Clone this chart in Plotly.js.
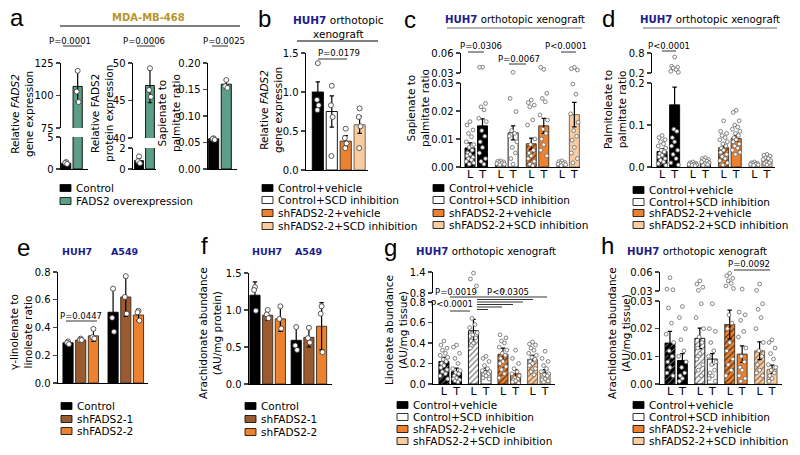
<!DOCTYPE html>
<html><head><meta charset="utf-8">
<script src="https://cdn.plot.ly/plotly-3.0.1.min.js"></script>
<style>html,body{margin:0;padding:0;background:#fff}#chart{width:800px;height:455px}</style>
</head><body><div id="chart"></div>
<script>
// ================= DATA =================
// panel a : MDA-MB-468
const aLegend = ['Control', 'FADS2 overexpression'];
const a1Mean = [0.9, 107];
const a1Err  = [0.1, 12];
const a1Pts  = [[1.1, 0.95, 0.8], [119, 103, 95]];
const a1LowTicks = [0, 5];
const a1UpTicks  = [75, 100, 125];
const a2Mean = [0.8, 47];
const a2Err  = [0.25, 2.3];
const a2Pts  = [[1.2, 0.75, 0.55], [49.3, 46.4, 45.5]];
const a2LowTicks = [0, 2];
const a2UpTicks  = [40, 45, 50];
const a3Mean = [0.057, 0.160];
const a3Err  = [0.001, 0.007];
const a3Pts  = [[0.058, 0.057, 0.055], [0.168, 0.156, 0.153]];
const a3Ticks = [0, 0.05, 0.10, 0.15, 0.20];

// legend for b, c, d, g, h
const xenoLegend = ['Control+vehicle', 'Control+SCD inhibition', 'shFADS2-2+vehicle', 'shFADS2-2+SCD inhibition'];

// panel b
const bMean = [1.0, 0.75, 0.37, 0.58];
const bErr  = [0.13, 0.20, 0.07, 0.11];
const bPts  = [[1.37, 0.90, 0.83, 0.77], [1.08, 0.83, 0.68, 0.18], [0.53, 0.41, 0.34, 0.28], [0.79, 0.68, 0.56, 0.28]];
const bTicks = [0, 0.5, 1.0, 1.5];

// L / T categories (liver / tumour)
const ltLabels = ['L', 'T', 'L', 'T', 'L', 'T', 'L', 'T'];

// panel c
const cMean = [0.0068, 0.0147, 0.0015, 0.0122, 0.0083, 0.0147, 0.0012, 0.0187];
const cErr  = [0.0018, 0.0025, 0.0003, 0.0025, 0.0020, 0.0027, 0.0003, 0.0044];
const cPts  = [
  [0.0162, 0.015, 0.0132, 0.012, 0.0108, 0.009, 0.008, 0.007, 0.006, 0.005, 0.0045, 0.004, 0.0035, 0.003, 0.0025, 0.002, 0.0015, 0.001],
  [0.0386, 0.0386, 0.0227, 0.0215, 0.0204, 0.0174, 0.0162, 0.013, 0.011, 0.009, 0.007, 0.005, 0.003, 0.002, 0.001],
  [0.0022, 0.002, 0.0018, 0.0016, 0.0014, 0.0012, 0.001, 0.0008],
  [0.031, 0.0245, 0.0198, 0.013, 0.012, 0.011, 0.009, 0.007, 0.005, 0.003, 0.001],
  [0.0239, 0.023, 0.0221, 0.0215, 0.0168, 0.015, 0.010, 0.008, 0.006, 0.005, 0.004, 0.003, 0.002, 0.001, 0.0005],
  [0.0355, 0.0385, 0.0263, 0.0245, 0.0233, 0.0186, 0.0168, 0.0135, 0.012, 0.010, 0.008, 0.006, 0.004],
  [0.0022, 0.0019, 0.0016, 0.0014, 0.0012, 0.001, 0.0008, 0.0005],
  [0.0385, 0.0365, 0.0345, 0.0296, 0.026, 0.019, 0.016, 0.013, 0.011, 0.0096, 0.007, 0.005, 0.003, 0.0015]
];
const cLowTicks = [0, 0.01, 0.02, 0.03];
const cUpTicks  = [0.03, 0.06];

// panel d
const dMean = [0.037, 0.148, 0.008, 0.013, 0.046, 0.068, 0.008, 0.016];
const dErr  = [0.007, 0.042, 0.001, 0.002, 0.007, 0.007, 0.001, 0.003];
const dPts  = [
  [0.075, 0.07, 0.065, 0.06, 0.055, 0.05, 0.045, 0.04, 0.036, 0.032, 0.028, 0.024, 0.02, 0.016, 0.012, 0.008, 0.004],
  [0.68, 0.40, 0.37, 0.35, 0.30, 0.25, 0.22, 0.09, 0.085, 0.07, 0.06, 0.05, 0.04, 0.03, 0.02, 0.01, 0.005],
  [0.012, 0.010, 0.009, 0.008, 0.007, 0.006, 0.005, 0.004, 0.003],
  [0.022, 0.020, 0.018, 0.016, 0.014, 0.012, 0.010, 0.008, 0.006, 0.004],
  [0.11, 0.085, 0.08, 0.075, 0.07, 0.065, 0.06, 0.055, 0.05, 0.045, 0.04, 0.035, 0.03, 0.025, 0.02, 0.015, 0.01, 0.005],
  [0.135, 0.13, 0.11, 0.10, 0.095, 0.09, 0.085, 0.08, 0.075, 0.07, 0.065, 0.06, 0.055, 0.05, 0.045, 0.04, 0.035, 0.03],
  [0.012, 0.010, 0.009, 0.008, 0.007, 0.006, 0.005, 0.004],
  [0.030, 0.028, 0.026, 0.022, 0.020, 0.018, 0.015, 0.012, 0.010, 0.008, 0.005]
];
const dLowTicks = [0, 0.1, 0.2];
const dUpTicks  = [0.2, 0.8];

// panels e, f
const shLegend = ['Control', 'shFADS2-1', 'shFADS2-2'];
const cellLines = ['HUH7', 'A549'];
const eMean = [0.29, 0.31, 0.34, 0.51, 0.62, 0.49];
const eErr  = [0.01, 0.01, 0.04, 0.16, 0.14, 0.04];
const ePts  = [[0.30, 0.29, 0.28], [0.32, 0.31, 0.31], [0.39, 0.33, 0.32], [0.68, 0.47, 0.37], [0.77, 0.62, 0.50], [0.52, 0.51, 0.45]];
const eTicks = [0, 0.2, 0.4, 0.6, 0.8];
const fMean = [1.20, 0.93, 0.88, 0.59, 0.63, 0.78];
const fErr  = [0.18, 0.07, 0.17, 0.18, 0.13, 0.32];
const fPts  = [[1.31, 1.27, 0.99], [1.00, 0.94, 0.89], [1.05, 0.88, 0.75], [0.77, 0.52, 0.46], [0.76, 0.62, 0.56], [1.05, 0.95, 0.43]];
const fTicks = [0, 0.5, 1.0, 1.5];

// panel g
const gMean = [0.22, 0.12, 0.52, 0.13, 0.29, 0.10, 0.24, 0.11];
const gErr  = [0.04, 0.035, 0.11, 0.025, 0.06, 0.04, 0.04, 0.03];
const gPts  = [
  [0.42, 0.38, 0.35, 0.33, 0.30, 0.28, 0.26, 0.24, 0.22, 0.20, 0.18, 0.16, 0.14, 0.12, 0.10, 0.08, 0.05],
  [0.38, 0.36, 0.30, 0.25, 0.20, 0.15, 0.13, 0.11, 0.10, 0.08, 0.06, 0.05, 0.04, 0.03, 0.02],
  [1.37, 1.20, 1.00, 0.64, 0.58, 0.55, 0.50, 0.48, 0.45, 0.42, 0.40, 0.35],
  [0.27, 0.25, 0.22, 0.18, 0.15, 0.13, 0.12, 0.11, 0.10, 0.09, 0.08, 0.06, 0.05],
  [0.87, 0.48, 0.45, 0.42, 0.40, 0.36, 0.33, 0.30, 0.28, 0.25, 0.22, 0.20, 0.17, 0.14, 0.10, 0.06],
  [0.33, 0.25, 0.20, 0.15, 0.12, 0.10, 0.08, 0.06, 0.05, 0.04, 0.03, 0.02, 0.01],
  [0.41, 0.39, 0.38, 0.35, 0.33, 0.30, 0.28, 0.26, 0.24, 0.22, 0.20, 0.18, 0.15, 0.12, 0.09],
  [0.32, 0.25, 0.22, 0.18, 0.15, 0.12, 0.10, 0.09, 0.08, 0.06, 0.05, 0.04, 0.03, 0.02]
];
const gLowTicks = [0, 0.2, 0.4, 0.6, 0.8];
const gUpTicks  = [0.8, 1.4];

// panel h
const hMean = [0.0148, 0.0085, 0.0165, 0.0090, 0.0215, 0.0108, 0.0120, 0.0053];
const hErr  = [0.0042, 0.0025, 0.0037, 0.0020, 0.0052, 0.0030, 0.0032, 0.0015];
const hPts  = [
  [0.051, 0.033, 0.032, 0.0275, 0.022, 0.018, 0.015, 0.012, 0.010, 0.008, 0.006, 0.004, 0.003],
  [0.028, 0.024, 0.020, 0.016, 0.012, 0.010, 0.008, 0.006, 0.004, 0.003, 0.002, 0.001],
  [0.046, 0.041, 0.036, 0.031, 0.029, 0.024, 0.020, 0.017, 0.015, 0.013, 0.011, 0.009, 0.007, 0.005, 0.003],
  [0.029, 0.020, 0.019, 0.015, 0.012, 0.010, 0.008, 0.007, 0.005, 0.004, 0.003, 0.002, 0.001],
  [0.058, 0.054, 0.050, 0.046, 0.042, 0.038, 0.034, 0.025, 0.022, 0.020, 0.015, 0.012, 0.009, 0.007, 0.005, 0.003],
  [0.033, 0.026, 0.025, 0.023, 0.019, 0.017, 0.013, 0.010, 0.008, 0.006, 0.005, 0.003, 0.002, 0.001],
  [0.041, 0.031, 0.029, 0.027, 0.024, 0.020, 0.015, 0.012, 0.010, 0.007, 0.005, 0.004, 0.003],
  [0.016, 0.015, 0.013, 0.011, 0.009, 0.007, 0.006, 0.005, 0.004, 0.003, 0.002, 0.001]
];
const hLowTicks = [0, 0.01, 0.02, 0.03];
const hUpTicks  = [0.03, 0.06];

// ================= STYLE / LAYOUT HELPERS =================
const W = 800, H = 455;
const X = p => p / W, Y = p => 1 - p / H;
const NAVY = '#1c1c8c', GOLD = '#b8952a';
const ST = {
  ctrl:  {c: '#000000', lc: '#000'},
  ctrlL: {c: '#000000', lc: '#000', h: '#bbbbbb', sol: 0.2},
  scd:   {c: '#ffffff', lc: '#000'},
  scdL:  {c: '#ffffff', lc: '#000', h: '#555555', sol: 0.25},
  sh:    {c: '#ec8230', lc: '#3a2a1a'},
  shL:   {c: '#ec8230', lc: '#3a2a1a', h: '#3b2000', sol: 0.25},
  shs:   {c: '#f9cba0', lc: '#6a5a4a'},
  shsL:  {c: '#f9cba0', lc: '#6a5a4a', h: '#7a5a40', sol: 0.25},
  green: {c: '#5b9f87', lc: '#000'},
  brown: {c: '#9b5b30', lc: '#3a2a1a'}
};
const ltStyles = [ST.ctrlL, ST.ctrl, ST.scdL, ST.scd, ST.shL, ST.sh, ST.shsL, ST.shs];
const xenoStyles = [ST.ctrl, ST.scd, ST.sh, ST.shs];
const shStyles = [ST.ctrl, ST.brown, ST.sh, ST.ctrl, ST.brown, ST.sh];
const jit = [0, -0.24, 0.24, -0.12, 0.12, -0.3, 0.3, -0.06, 0.18, -0.18];

const layout = {
  width: W, height: H, margin: {l: 0, r: 0, t: 0, b: 0},
  paper_bgcolor: '#fff', plot_bgcolor: 'rgba(0,0,0,0)', showlegend: false, barmode: 'overlay',
  font: {family: 'DejaVu Sans, Verdana, sans-serif', size: 10.5, color: '#000'},
  shapes: [], annotations: []
};
const traces = [];
let nx = 0, ny = 0;
const key = (l, n) => l + 'axis' + (n === 1 ? '' : n);
const ref = (l, n) => l + (n === 1 ? '' : n);

function ltPos(step) { return ltLabels.map((_, i) => Math.floor(i / 2) * step + (i % 2)); }
function grpPos(gap) { return eMean.map((_, i) => Math.floor(i / 3) * (3 + gap) + (i % 3)); }

function addPanel(p) {
  const xi = ++nx, yl = ++ny, yu = p.up ? ++ny : 0;
  const xr = ref('x', xi);
  layout[key('x', xi)] = {
    domain: [X(p.x[0]), X(p.x[1])], range: p.xr, anchor: ref('y', yl),
    showline: true, linecolor: '#000', linewidth: 1.4, showgrid: false, zeroline: false,
    ticks: '', tickvals: p.pos, ticktext: p.xt || p.pos.map(() => ''), showticklabels: !!p.xt,
    tickfont: {size: 11}, ticklabelstandoff: -4, fixedrange: true
  };
  const mkY = seg => ({
    domain: [Y(seg.py[1]), Y(seg.py[0])], range: seg.r, anchor: xr,
    showline: true, linecolor: '#000', linewidth: 1.4, showgrid: false, zeroline: false,
    ticks: 'outside', ticklen: 4, tickwidth: 1.4, tickvals: seg.tv, tickformat: seg.fmt,
    tickfont: {size: 10}, fixedrange: true
  });
  layout[key('y', yl)] = mkY(p.low);
  if (yu) layout[key('y', yu)] = mkY(p.up);
  const lowMax = p.low.r[1];
  const segs = [{yi: yl, low: true}];
  if (yu) segs.push({yi: yu, low: false});
  p.mean.forEach((v, i) => {
    const st = p.st[i];
    segs.forEach(s => {
      const showBar = s.low || v > p.up.r[0];
      if (!showBar) return;
      const errHere = s.low ? v <= lowMax : true;
      traces.push({
        type: 'bar', x: [p.pos[i]], y: [v], width: p.bw || 0.8,
        xaxis: xr, yaxis: ref('y', s.yi), cliponaxis: true,
        marker: {
          color: st.c, line: {color: st.lc, width: 0.9},
          pattern: st.h ? {shape: '/', fillmode: 'replace', bgcolor: st.c, fgcolor: st.h, size: 4, solidity: st.sol} : {shape: ''}
        },
        error_y: {type: 'data', array: [p.err[i]], visible: errHere, color: '#000', thickness: 1.2, width: 2.2}
      });
    });
  });
  // points
  p.pts.forEach((arr, i) => {
    const lowX = [], lowY = [], upX = [], upY = [];
    arr.forEach((v, k) => {
      const xx = p.pos[i] + jit[k % jit.length] * (p.js || 1);
      if (yu && v > lowMax) { upX.push(xx); upY.push(v); } else { lowX.push(xx); lowY.push(v); }
    });
    const mk = {size: p.ms || 3.8, color: '#fff', line: {color: p.mlc || '#666', width: 0.8}};
    traces.push({type: 'scatter', mode: 'markers', x: lowX, y: lowY, xaxis: xr, yaxis: ref('y', yl), marker: mk, cliponaxis: false});
    if (yu && upX.length) traces.push({type: 'scatter', mode: 'markers', x: upX, y: upY, xaxis: xr, yaxis: ref('y', yu), marker: mk, cliponaxis: false});
  });
}

function txt(x, y, text, size, opts) {
  layout.annotations.push(Object.assign({xref: 'paper', yref: 'paper', x: X(x), y: Y(y), text: text, showarrow: false,
    xanchor: 'center', yanchor: 'middle', font: {size: size}}, opts || {}));
}
function hline(x0, x1, y, color, w) {
  layout.shapes.push({type: 'line', xref: 'paper', yref: 'paper', x0: X(x0), x1: X(x1), y0: Y(y), y1: Y(y), line: {color: color || '#000', width: w || 1}});
}
function ytitle(cx, cy, text) { txt(cx, cy, text, 10.5, {textangle: -90}); }
function letter(x, y, l) { txt(x, y, l, 24, {font: {size: 24, family: 'Liberation Sans, Arial, sans-serif'}}); }
function legend(x, ys, labels, styles) {
  labels.forEach((lab, i) => {
    layout.shapes.push({type: 'rect', xref: 'paper', yref: 'paper', x0: X(x), x1: X(x + 11), y0: Y(ys[i] + 3.5), y1: Y(ys[i] - 3.5),
      fillcolor: styles[i].c, line: {color: '#000', width: 0.8}});
    txt(x + 14, ys[i], lab, 10.5, {xanchor: 'left'});
  });
}
function pval(cx, y, t, lx0, lx1, ly) { txt(cx, y, t, 8.5); hline(lx0, lx1, ly, '#333', 1); }

// ================= PANELS =================
const twoPos = aLegend.map((_, i) => i);
addPanel({x: [61, 88], xr: [-0.45, 1.9], pos: twoPos, bw: 0.8,
  low: {py: [137, 169], r: [0, 5], tv: a1LowTicks}, up: {py: [63, 128], r: [75, 125], tv: a1UpTicks},
  mean: a1Mean, err: a1Err, pts: a1Pts, st: [ST.ctrl, ST.green], js: 0.35, ms: 5, mlc: '#333'});
addPanel({x: [133, 156], xr: [-0.55, 1.55], pos: twoPos, bw: 0.8,
  low: {py: [148, 169], r: [0, 2], tv: a2LowTicks}, up: {py: [63, 138], r: [40, 50], tv: a2UpTicks},
  mean: a2Mean, err: a2Err, pts: a2Pts, st: [ST.ctrl, ST.green], js: 0.35, ms: 5, mlc: '#333'});
addPanel({x: [208, 237], xr: [-0.45, 1.85], pos: twoPos, bw: 0.8,
  low: {py: [63, 169], r: [0, 0.2], tv: a3Ticks, fmt: '.2f'},
  mean: a3Mean, err: a3Err, pts: a3Pts, st: [ST.ctrl, ST.green], js: 0.35, ms: 5, mlc: '#333'});
addPanel({x: [306, 368], xr: [-0.85, 3.6], pos: xenoLegend.map((_, i) => i), bw: 0.8,
  low: {py: [53, 170], r: [0, 1.5], tv: bTicks, fmt: '.1f'},
  mean: bMean, err: bErr, pts: bPts, st: xenoStyles, js: 0.25, ms: 5, mlc: '#333'});
addPanel({x: [461, 580], xr: [-0.72, 8.8], pos: ltPos(2.45), xt: ltLabels,
  low: {py: [83, 167], r: [0, 0.03], tv: cLowTicks, fmt: '.2f'}, up: {py: [53, 73], r: [0.03, 0.06], tv: cUpTicks, fmt: '.2f'},
  mean: cMean, err: cErr, pts: cPts, st: ltStyles});
addPanel({x: [652, 775], xr: [-0.8, 8.99], pos: ltPos(2.45), xt: ltLabels,
  low: {py: [83, 167], r: [0, 0.2], tv: dLowTicks, fmt: '.1f'}, up: {py: [53, 73], r: [0.2, 0.8], tv: dUpTicks, fmt: '.1f'},
  mean: dMean, err: dErr, pts: dPts, st: ltStyles});
addPanel({x: [58, 148], xr: [-0.79, 6.3], pos: grpPos(0.55),
  low: {py: [272, 383], r: [0, 0.8], tv: eTicks, fmt: '.1f'},
  mean: eMean, err: eErr, pts: ePts, st: shStyles, js: 0.3, ms: 5, mlc: '#333'});
addPanel({x: [249, 332], xr: [-0.47, 6.07], pos: grpPos(0.25),
  low: {py: [273, 384], r: [0, 1.5], tv: fTicks, fmt: '.1f'},
  mean: fMean, err: fErr, pts: fPts, st: shStyles, js: 0.3, ms: 5, mlc: '#333'});
addPanel({x: [433, 555], xr: [-0.87, 8.84], pos: ltPos(2.35), xt: ltLabels,
  low: {py: [302, 384], r: [0, 0.8], tv: gLowTicks, fmt: '.1f'}, up: {py: [272, 293], r: [0.8, 1.4], tv: gUpTicks, fmt: '.1f'},
  mean: gMean, err: gErr, pts: gPts, st: ltStyles});
addPanel({x: [660, 782], xr: [-0.8, 9.0], pos: ltPos(2.4), xt: ltLabels,
  low: {py: [301, 384], r: [0, 0.03], tv: hLowTicks, fmt: '.2f'}, up: {py: [272, 291], r: [0.03, 0.06], tv: hUpTicks, fmt: '.2f'},
  mean: hMean, err: hErr, pts: hPts, st: ltStyles});

// ---- panel letters ----
letter(17, 18, 'a'); letter(264, 19, 'b'); letter(410, 20, 'c'); letter(608, 19, 'd');
letter(23, 248, 'e'); letter(204, 246, 'f'); letter(390, 248, 'g'); letter(607, 246, 'h');

// ---- titles ----
txt(148, 18, '<b>MDA-MB-468</b>', 10, {font: {size: 10, color: GOLD}});
hline(60, 240, 26, '#000', 1);
const huh = '<b><span style="color:' + NAVY + '">HUH7</span></b>';
txt(338, 27, huh + ' orthotopic<br>xenograft', 10.5);
hline(297, 378, 41, '#000', 1);
txt(515, 20, huh + ' orthotopic xenograft', 10.2);
hline(447, 582, 28, '#666', 1);
txt(710, 20, huh + ' orthotopic xenograft', 10.2);
hline(643, 777, 28, '#666', 1);
txt(77, 251, '<b>' + cellLines[0] + '</b>', 9.5, {font: {size: 9.5, color: NAVY}});
txt(124, 251, '<b>' + cellLines[1] + '</b>', 9.5, {font: {size: 9.5, color: NAVY}});
txt(267, 251, '<b>' + cellLines[0] + '</b>', 9.5, {font: {size: 9.5, color: NAVY}});
txt(308, 251, '<b>' + cellLines[1] + '</b>', 9.5, {font: {size: 9.5, color: NAVY}});
txt(486, 251, huh + ' orthotopic xenograft', 10.2);
txt(697, 251, huh + ' orthotopic xenograft', 10.2);

// ---- y-axis titles ----
ytitle(22, 114, 'Relative <i>FADS2</i><br>gene expression');
ytitle(102, 114, 'Relative FADS2<br>protein expression');
ytitle(169, 113, 'Sapienate to<br>palmitate ratio');
ytitle(271, 110, 'Relative <i>FADS2</i><br>gene expression');
ytitle(418, 108, 'Sapienate to<br>palmitate ratio');
ytitle(615, 110, 'Palmitoleate to<br>palmitate ratio');
ytitle(21, 332, 'γ-linolenate to<br>linoleate ratio');
ytitle(210, 333, 'Arachidonate abundance<br>(AU/mg protein)');
ytitle(396, 330, 'Linoleate abundance<br>(AU/mg tissue)');
ytitle(619, 333, 'Arachidonate abundance<br>(AU/mg tissue)');

// ---- P values ----
pval(70, 41, 'P=0.0001', 63, 82, 46);
pval(144, 41, 'P=0.0006', 137, 155, 46);
pval(224, 41, 'P=0.0025', 212, 228, 46);
pval(339, 53, 'P=0.0179', 318, 347, 59);
pval(481, 46, 'P=0.0306', 468, 484, 52);
pval(519, 59, 'P=0.0067', 509, 526, 64);
pval(566, 46, 'P<0.0001', 561, 576, 52);
pval(669, 46, 'P<0.0001', 662, 676, 51);
pval(81, 316, 'P=0.0447', 66, 97, 321);
pval(749, 264, 'P=0.0092', 734, 770, 270);
txt(456, 292, 'P=0.0019', 8.5);
txt(508, 292, 'P<0.0305', 8.5);
txt(452, 304, 'P<0.0001', 8.5);
hline(450, 547, 297, '#333', 1);
hline(477, 533, 299.5, '#333', 1);
hline(477, 523, 302, '#333', 1);
hline(477, 513, 304.5, '#333', 1);
hline(477, 502, 307, '#333', 1);
hline(477, 488, 309.5, '#333', 1);
hline(450, 470, 311, '#333', 1);

// ---- legends ----
legend(60, [188, 201], aLegend, [ST.ctrl, ST.green]);
legend(262, [188, 200, 213, 226], xenoLegend, xenoStyles);
legend(433, [188, 200, 213, 225], xenoLegend, xenoStyles);
legend(633, [190, 202, 213, 225], xenoLegend, xenoStyles);
legend(61, [406, 419, 431], shLegend, [ST.ctrl, ST.brown, ST.sh]);
legend(245, [406, 419, 432], shLegend, [ST.ctrl, ST.brown, ST.sh]);
legend(397, [405, 417, 429, 441], xenoLegend, xenoStyles);
legend(633, [405, 417, 429, 441], xenoLegend, xenoStyles);

Plotly.newPlot('chart', traces, layout, {staticPlot: true, displayModeBar: false});
</script>
</body></html>
